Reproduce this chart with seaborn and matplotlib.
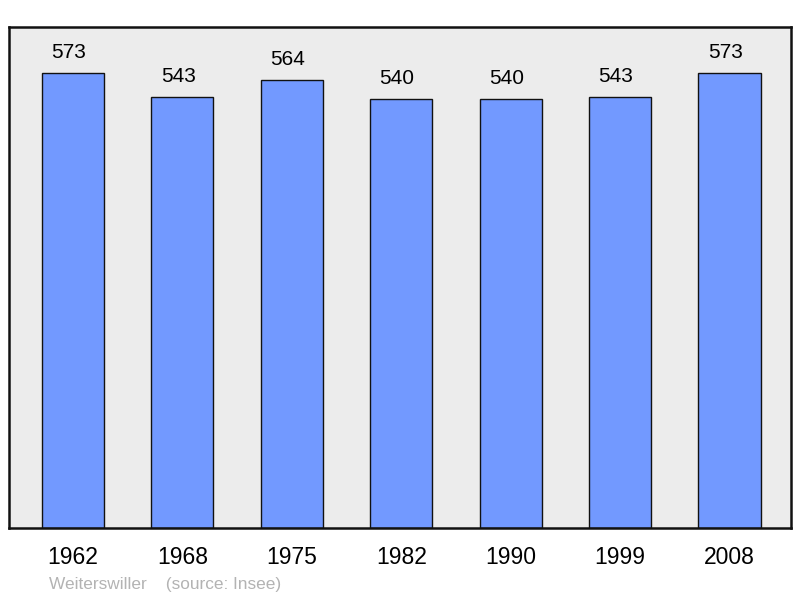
import matplotlib
matplotlib.use('Agg')
import matplotlib.pyplot as plt
import seaborn as sns
import pandas as pd

# population data
years = ['1962', '1968', '1975', '1982', '1990', '1999', '2008']
population = [573, 543, 564, 540, 540, 543, 573]
footer = 'Weiterswiller    (source: Insee)'

df = pd.DataFrame({'Year': years, 'Population': population})

sns.set_style('white')
plt.rcParams['font.family'] = ['Liberation Sans', 'DejaVu Sans']

fig = plt.figure(figsize=(8, 5.98), dpi=100)
ax = fig.add_axes([9 / 800, 70 / 598, 782 / 800, 501 / 598])
ax.set_facecolor('#ececec')

sns.barplot(data=df, x='Year', y='Population', color='#7299ff', saturation=1,
            width=0.567, edgecolor='#111111', linewidth=1.0, ax=ax)

ax.set_xlim(-0.585, 6.562)
ax.set_ylim(0, 631)

# value labels above bars (slightly left of centre, as in the original)
for i, v in enumerate(population):
    ax.annotate(str(v), (i, v), xytext=(-3, 8), textcoords='offset points',
                ha='center', va='bottom', fontsize=15, color='black')

ax.set_xlabel('')
ax.set_ylabel('')
ax.set_yticks([])
ax.tick_params(axis='x', length=0, pad=13, labelsize=16.5, labelcolor='black')
for s in ax.spines.values():
    s.set_linewidth(1.8)
    s.set_color('#111111')

fig.text(49 / 800, 1 - 584 / 598, footer, fontsize=12.4, color='#b3b3b3',
         ha='left', va='center')

plt.savefig('out.png', dpi=100)
